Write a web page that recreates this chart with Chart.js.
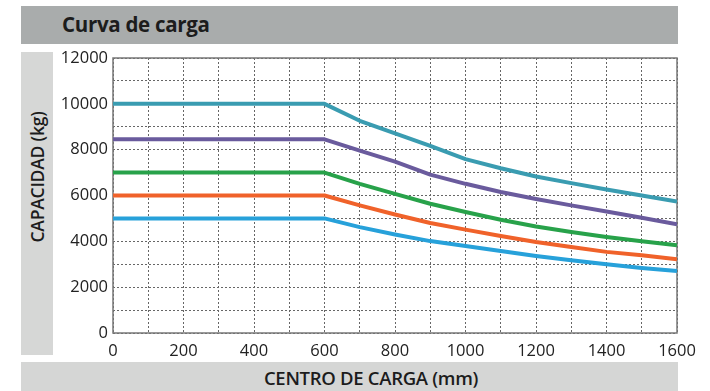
<!DOCTYPE html>
<html>
<head>
<meta charset="utf-8">
<script src="https://cdn.jsdelivr.net/npm/chart.js@4"></script>
<style>
  html,body{margin:0;padding:0;background:#fff;}
  #wrap{position:relative;width:710px;height:391px;overflow:hidden;font-family:"Open Sans",sans-serif;}
  .band{position:absolute;}
  #title{left:21px;top:6px;width:657px;height:38px;background:#a9acac;}
  #title span{position:absolute;left:41px;top:4px;font-weight:700;font-size:20.5px;color:#1c1c1c;letter-spacing:-0.3px;}
  #ystrip{left:21px;top:52px;width:32px;height:303px;background:#d6d7d6;}
  #ytitle{position:absolute;left:37px;top:177px;transform:translate(-50%,-50%) rotate(-90deg);
    white-space:nowrap;font-weight:600;font-size:17.5px;color:#1c1c1c;letter-spacing:-0.2px;}
  #xband{left:21px;top:362px;width:657px;height:29px;background:#d5d6d5;}
  #xtitle{position:absolute;left:371px;top:377px;transform:translate(-50%,-50%);
    white-space:nowrap;font-weight:600;font-size:18.5px;color:#1c1c1c;letter-spacing:-0.3px;}
  canvas{position:absolute;left:0;top:0;}
</style>
</head>
<body>
<div id="wrap">
  <div class="band" id="title"><span>Curva de carga</span></div>
  <div class="band" id="ystrip"></div>
  <div id="ytitle">CAPACIDAD (kg)</div>
  <div class="band" id="xband"></div>
  <div id="xtitle">CENTRO DE CARGA (mm)</div>
  <canvas id="c" width="710" height="391"></canvas>
</div>
<script>
// centro de carga (mm)
const centros=[0,600,700,800,900,1000,1100,1200,1300,1400,1500,1600];
// capacidad (kg) por curva
const curva10000=[10000,10000,9260,8710,8170,7590,7190,6830,6540,6260,6000,5740];
const curva8500=[8450,8450,7960,7480,6910,6510,6150,5850,5570,5300,5030,4740];
const curva7000=[7000,7000,6510,6070,5640,5280,4940,4650,4410,4190,4000,3830];
const curva6000=[6000,6000,5570,5170,4800,4510,4230,3970,3750,3540,3390,3220];
const curva5000=[5000,5000,4620,4300,4010,3800,3580,3360,3170,3000,2840,2710];
// etiquetas de ejes
const xTickLabels=['0','200','400','600','800','1000','1200','1400','1600'];
const yTickLabels=['0','2000','4000','6000','8000','10000','12000'];

const pts=arr=>arr.map((v,i)=>({x:centros[i],y:v}));
const ds=(arr,col)=>({data:pts(arr),borderColor:col,borderWidth:4,pointRadius:0,
  fill:false,tension:0,borderCapStyle:'butt',borderJoinStyle:'round'});

// marco sólido alrededor del área de trazado
const frame={
  id:'frame',
  beforeDatasetsDraw(chart){
    const a=chart.chartArea,c=chart.ctx;
    c.save(); c.strokeStyle='#777'; c.lineWidth=1.5;
    c.strokeRect(a.left,a.top,a.right-a.left,a.bottom-a.top);
    c.restore();
  }
};

const tickFont={family:'"Open Sans", sans-serif',size:16.5};

new Chart(document.getElementById('c'),{
  type:'line',
  data:{datasets:[
    ds(curva10000,'#3a9cb1'),
    ds(curva8500,'#6a5b9d'),
    ds(curva7000,'#28a24a'),
    ds(curva6000,'#f0622a'),
    ds(curva5000,'#27a1da'),
  ]},
  options:{
    responsive:false,animation:false,
    layout:{padding:{left:0,top:58,right:33,bottom:0}},
    plugins:{legend:{display:false},tooltip:{enabled:false}},
    scales:{
      x:{type:'linear',min:0,max:1600,
        afterFit(s){s.height=58;},
        grid:{color:'#666',lineWidth:1,drawTicks:false},
        border:{display:false,dash:[2,2]},
        ticks:{stepSize:100,autoSkip:false,maxRotation:0,padding:8,color:'#222',font:tickFont,
          callback:v=>xTickLabels.includes(String(v))?String(v):''}},
      y:{min:0,max:12000,
        afterFit(s){s.width=113;},
        grid:{color:'#666',lineWidth:1,drawTicks:false},
        border:{display:false,dash:[2,2]},
        ticks:{stepSize:1000,autoSkip:false,padding:5,color:'#222',font:tickFont,
          callback:v=>yTickLabels.includes(String(v))?String(v):''}}
    }
  },
  plugins:[frame]
});
</script>
</body>
</html>
